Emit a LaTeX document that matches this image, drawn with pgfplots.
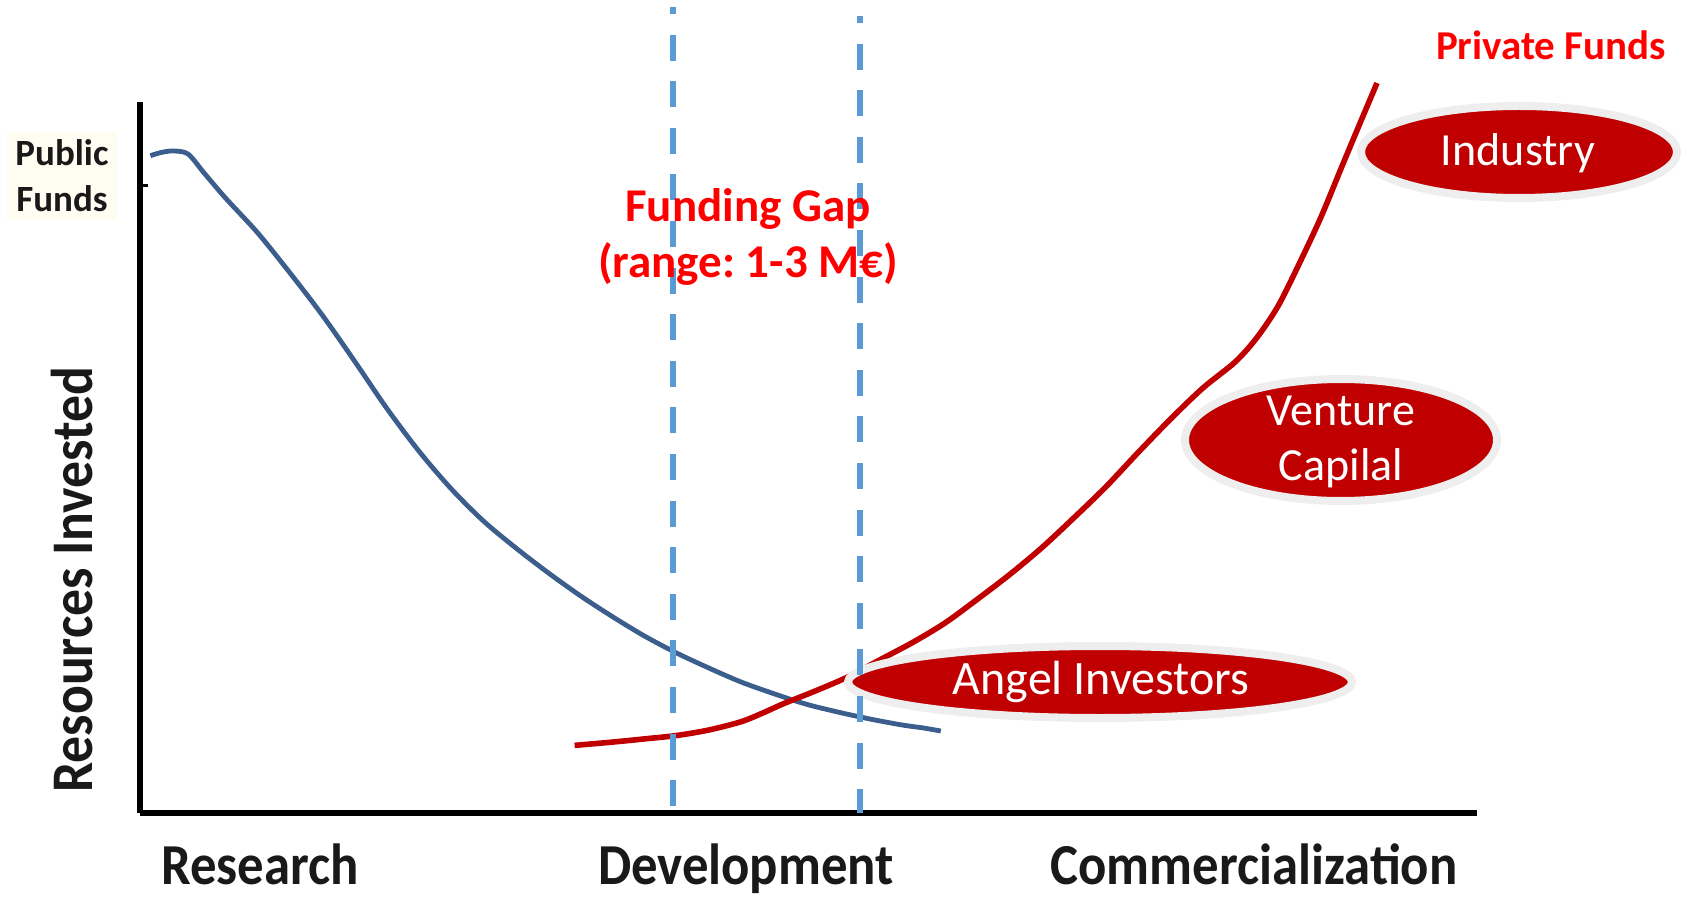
\documentclass[border=0pt]{standalone}
\usepackage{pgfplots}
\pgfplotsset{compat=1.18}
\usepackage{fontspec}
\setmainfont{Carlito}
\newfontfamily\condfont[FakeStretch=0.91]{Carlito}
\frenchspacing
\definecolor{curveblue}{RGB}{59,94,140}
\definecolor{gapblue}{RGB}{91,155,213}
\definecolor{darkred}{RGB}{192,0,0}
\definecolor{brightred}{RGB}{255,0,0}
\definecolor{ringgray}{RGB}{238,238,238}
\definecolor{cream}{RGB}{255,253,242}
\definecolor{labelblack}{RGB}{25,25,25}

\pgfplotstableread{
x y
150.4 657.3
161.1 660.5
173.0 662.0
188.0 659.0
204.1 640.0
225.5 615.0
257.8 580.0
290.0 540.0
322.2 498.0
354.4 452.1
386.6 404.9
418.9 361.9
451.1 324.3
483.3 292.1
515.5 265.3
547.7 240.6
580.0 217.5
612.2 196.5
644.4 177.0
676.6 160.0
708.8 145.0
741.1 131.0
773.3 119.5
805.5 109.0
837.7 101.0
869.9 94.0
902.2 88.0
923.6 85.0
940.8 82.0
}\bluedata

\pgfplotstableread{
x y
574.6 67.6
612.2 70.9
644.4 74.1
676.6 77.5
708.8 83.0
741.1 91.3
762.5 99.9
784.0 109.5
816.2 122.4
848.5 136.4
880.7 153.6
912.9 170.7
945.1 190.1
977.3 213.7
1009.6 238.4
1041.8 265.3
1074.0 295.3
1106.2 326.5
1138.4 360.8
1170.7 394.1
1202.9 425.0
1235.1 451.0
1256.6 475.0
1278.1 507.0
1299.5 549.9
1321.0 596.0
1342.5 648.0
1358.6 686.5
1377.0 730.0
}\reddata

\begin{document}
\begin{tikzpicture}
\begin{axis}[
  scale only axis,
  width=668.5pt, height=355.5pt,
  xmin=140, xmax=1477, ymin=0, ymax=711,
  axis x line=bottom, axis y line=left,
  axis line style={-, line width=3.3pt, black},
  clip=false,
  xtick={260,746,1254},
  xticklabels={Research,Development,Commercialization},
  xtick style={draw=none},
  xticklabel style={font=\fontsize{29}{34}\condfont\bfseries, text=labelblack, anchor=base, yshift=-35.5pt},
  ytick={627},
  yticklabels={Public\\Funds},
  tick align=inside,
  major tick length=4pt,
  ytick style={line width=1.5pt, black},
  yticklabel style={font=\fontsize{18.5}{23}\selectfont\bfseries, text=labelblack, align=center, anchor=center, xshift=-39pt, yshift=5pt, fill=cream, inner sep=4pt},
  ylabel={Resources Invested},
  every axis y label/.style={at={(axis description cs:-0.0509,0.328)}, rotate=90, anchor=center, font=\fontsize{29.5}{34}\condfont\bfseries, text=labelblack},
]
\coordinate (bl) at (axis cs:0,-87);
\coordinate (tr) at (axis cs:1684,813);

\addplot[smooth, curveblue, line width=2.4pt] table[x=x, y=y] {\bluedata};
\addplot[smooth, darkred, line width=2.8pt] table[x=x, y=y] {\reddata};

% ellipses
\draw[ringgray, line width=4pt, fill=darkred] (axis cs:1519,661) ellipse [x radius=79pt, y radius=23pt];
\draw[ringgray, line width=4pt, fill=darkred] (axis cs:1341,373) ellipse [x radius=78pt, y radius=30.5pt];
\draw[ringgray, line width=4pt, fill=darkred] (axis cs:1100,131) ellipse [x radius=126pt, y radius=18pt];

% funding gap boundaries
\addplot[gapblue, line width=3.1pt, dash pattern=on 13pt off 10.3pt, dash phase=9.5pt] coordinates {(673,806) (673,0)};
\addplot[gapblue, line width=3.1pt, dash pattern=on 13pt off 10.3pt, dash phase=9.5pt] coordinates {(860,797) (860,0)};

\node[text=white, font=\fontsize{23}{27}\selectfont] at (axis cs:1518,660) {Industry};
\node[text=white, font=\fontsize{23}{27.5}\selectfont, align=center] at (axis cs:1341,371) {Venture\\Capilal};
\node[text=white, font=\fontsize{24}{28}\selectfont] at (axis cs:1101,131) {Angel Investors};

\node[text=brightred, font=\fontsize{23.5}{28}\selectfont\bfseries, align=center] at (axis cs:748,576) {Funding Gap\\(range: 1-3 M€)};
\node[text=brightred, font=\fontsize{20.5}{24}\selectfont\bfseries] at (axis cs:1551,768) {Private Funds};
\end{axis}
\pgfresetboundingbox
\path[use as bounding box] (bl) rectangle (tr);
\end{tikzpicture}
\end{document}
